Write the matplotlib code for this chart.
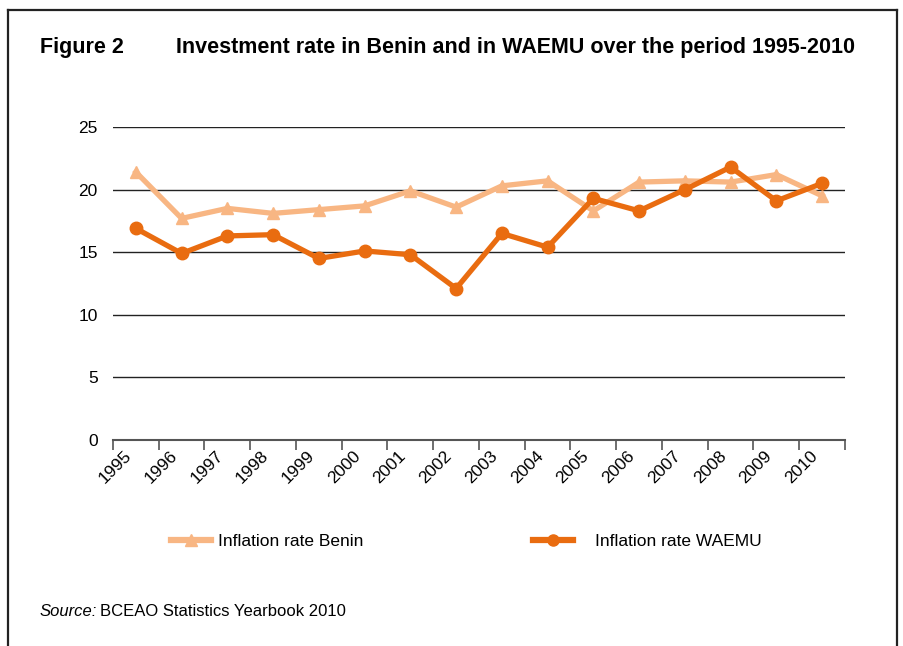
import matplotlib
matplotlib.use("Agg")
import matplotlib.pyplot as plt
from matplotlib.lines import Line2D
from matplotlib.transforms import ScaledTranslation

years = ["1995", "1996", "1997", "1998", "1999", "2000", "2001", "2002",
         "2003", "2004", "2005", "2006", "2007", "2008", "2009", "2010"]
benin = [21.4, 17.7, 18.5, 18.1, 18.4, 18.7, 19.9, 18.6,
         20.3, 20.7, 18.3, 20.6, 20.7, 20.6, 21.2, 19.5]
waemu = [16.9, 14.9, 16.3, 16.4, 14.5, 15.1, 14.8, 12.1,
         16.5, 15.4, 19.3, 18.3, 20.0, 21.8, 19.1, 20.5]
yticks = [0, 5, 10, 15, 20, 25]

plt.rcParams["font.family"] = ["Liberation Sans", "DejaVu Sans"]

c_benin = "#F8B683"
c_waemu = "#E96C10"

W, H = 904, 646
fig = plt.figure(figsize=(W / 100, H / 100), dpi=100)
ax = fig.add_axes([113 / W, 1 - 440 / H, (845 - 113) / W, (440 - 127) / H])

x = list(range(len(years)))
ax.plot(x, benin, color=c_benin, lw=3.8, marker="^", ms=9, zorder=3)
ax.plot(x, waemu, color=c_waemu, lw=3.8, marker="o", ms=9, zorder=4)

ax.set_xlim(-0.5, len(years) - 0.5)
ax.set_ylim(0, 25)
for s in ["left", "right", "top"]:
    ax.spines[s].set_visible(False)
ax.spines["bottom"].set_color("#555555")
ax.spines["bottom"].set_linewidth(1.5)
for v in yticks[1:]:
    ax.axhline(v, color="#222222", lw=1.0, zorder=1)
ax.set_yticks(yticks)
ax.set_yticklabels([str(v) for v in yticks], fontsize=12.5)
ax.tick_params(axis="y", length=0, pad=11)

ax.set_xticks([i - 0.5 for i in range(len(years) + 1)])
ax.set_xticklabels([])
ax.tick_params(axis="x", which="major", length=7, width=1.2, color="#555555", direction="out")
ax.set_xticks(x, minor=True)
ax.set_xticklabels(years, minor=True, rotation=45, ha="right", va="top",
                   rotation_mode="anchor", fontsize=12.5)
ax.tick_params(axis="x", which="minor", length=0, pad=6)
off = ScaledTranslation(-12 / 100, 0, fig.dpi_scale_trans)
for lab in ax.get_xticklabels(minor=True):
    lab.set_transform(lab.get_transform() + off)

# Title
fig.text(40 / W, 1 - 47 / H, "Figure 2", fontsize=15.5, fontweight="bold", va="center", ha="left")
fig.text(176 / W, 1 - 47 / H, "Investment rate in Benin and in WAEMU over the period 1995-2010",
         fontsize=15.5, fontweight="bold", va="center", ha="left")

# Legends
h1 = Line2D([], [], color=c_benin, lw=4.5, marker="^", ms=8)
h2 = Line2D([], [], color=c_waemu, lw=4.5, marker="o", ms=8)
fig.legend([h1], ["Inflation rate Benin"], loc="center left",
           bbox_to_anchor=(157 / W, 1 - 541 / H), frameon=False, fontsize=12.5,
           handlelength=2.3, handletextpad=0.4, borderpad=0.3)
fig.legend([h2], ["Inflation rate WAEMU"], loc="center left",
           bbox_to_anchor=(519 / W, 1 - 541 / H), frameon=False, fontsize=12.5,
           handlelength=2.3, handletextpad=1.25, borderpad=0.3)

# Source
t1 = fig.text(40 / W, 1 - 612 / H, "Source:", fontsize=12, style="italic", va="center", ha="left")
fig.canvas.draw()
r = fig.canvas.get_renderer()
bb = t1.get_window_extent(r)
fig.text((bb.x1 + 3) / W, 1 - 612 / H, "BCEAO Statistics Yearbook 2010", fontsize=12,
         va="center", ha="left")

# Frame
fig.add_artist(Line2D([8 / W, 8 / W], [0, 1 - 10 / H], color="#222222", lw=1.6))
fig.add_artist(Line2D([897 / W, 897 / W], [0, 1 - 10 / H], color="#222222", lw=1.6))
fig.add_artist(Line2D([8 / W, 897 / W], [1 - 10 / H, 1 - 10 / H], color="#222222", lw=1.6))

fig.savefig("out.png", dpi=100)
